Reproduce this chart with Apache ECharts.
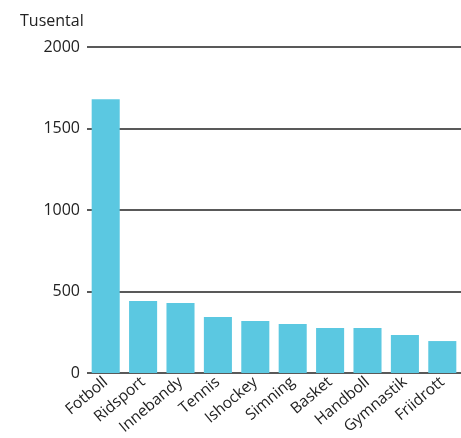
<!DOCTYPE html>
<html>
<head>
<meta charset="utf-8">
<script src="https://cdn.jsdelivr.net/npm/echarts@6/dist/echarts.min.js"></script>
<style>
	html, body { margin: 0; padding: 0; background: #fff; }
	#chart-1 { width: 461px; height: 438px; }
</style>
</head>
<body>
<div id="chart-1"></div>
<script>
var sports = ['Fotboll', 'Ridsport', 'Innebandy', 'Tennis', 'Ishockey', 'Simning', 'Basket', 'Handboll', 'Gymnastik', 'Friidrott'];
var members = [1680, 442, 429, 343, 319, 301, 276, 276, 233, 196];
var yTicks = [0, 500, 1000, 1500, 2000];

var myChart = echarts.init(document.getElementById('chart-1'));

var option = {
	animation: false,
	textStyle: {
		fontFamily: 'Open Sans'
	},
	title: {
		text: 'Tusental',
		left: 15,
		top: 8,
		textStyle: {
			fontSize: 16,
			fontWeight: 'normal',
			color: '#222',
			fontFamily: 'Open Sans'
		}
	},
	grid: {
		left: 87,
		right: -4,
		top: 47,
		bottom: 65
	},
	xAxis: {
		type: 'category',
		data: sports,
		axisLine: { show: false },
		axisTick: { show: false },
		axisLabel: {
			rotate: 40,
			interval: 0,
			margin: 7,
			fontSize: 15.5,
			color: '#222'
		}
	},
	yAxis: {
		type: 'value',
		min: yTicks[0],
		max: yTicks[yTicks.length - 1],
		interval: 500,
		axisLine: { show: false },
		axisTick: { show: false },
		axisLabel: {
			margin: 7,
			fontSize: 16,
			color: '#222',
			formatter: function (v) { return String(v); }
		},
		splitLine: {
			lineStyle: { color: '#222', width: 1.5 }
		}
	},
	series: [{
		type: 'bar',
		data: members,
		barCategoryGap: '25%',
		itemStyle: { color: '#5bc8e1' }
	}]
};

myChart.setOption(option);
</script>
</body>
</html>
